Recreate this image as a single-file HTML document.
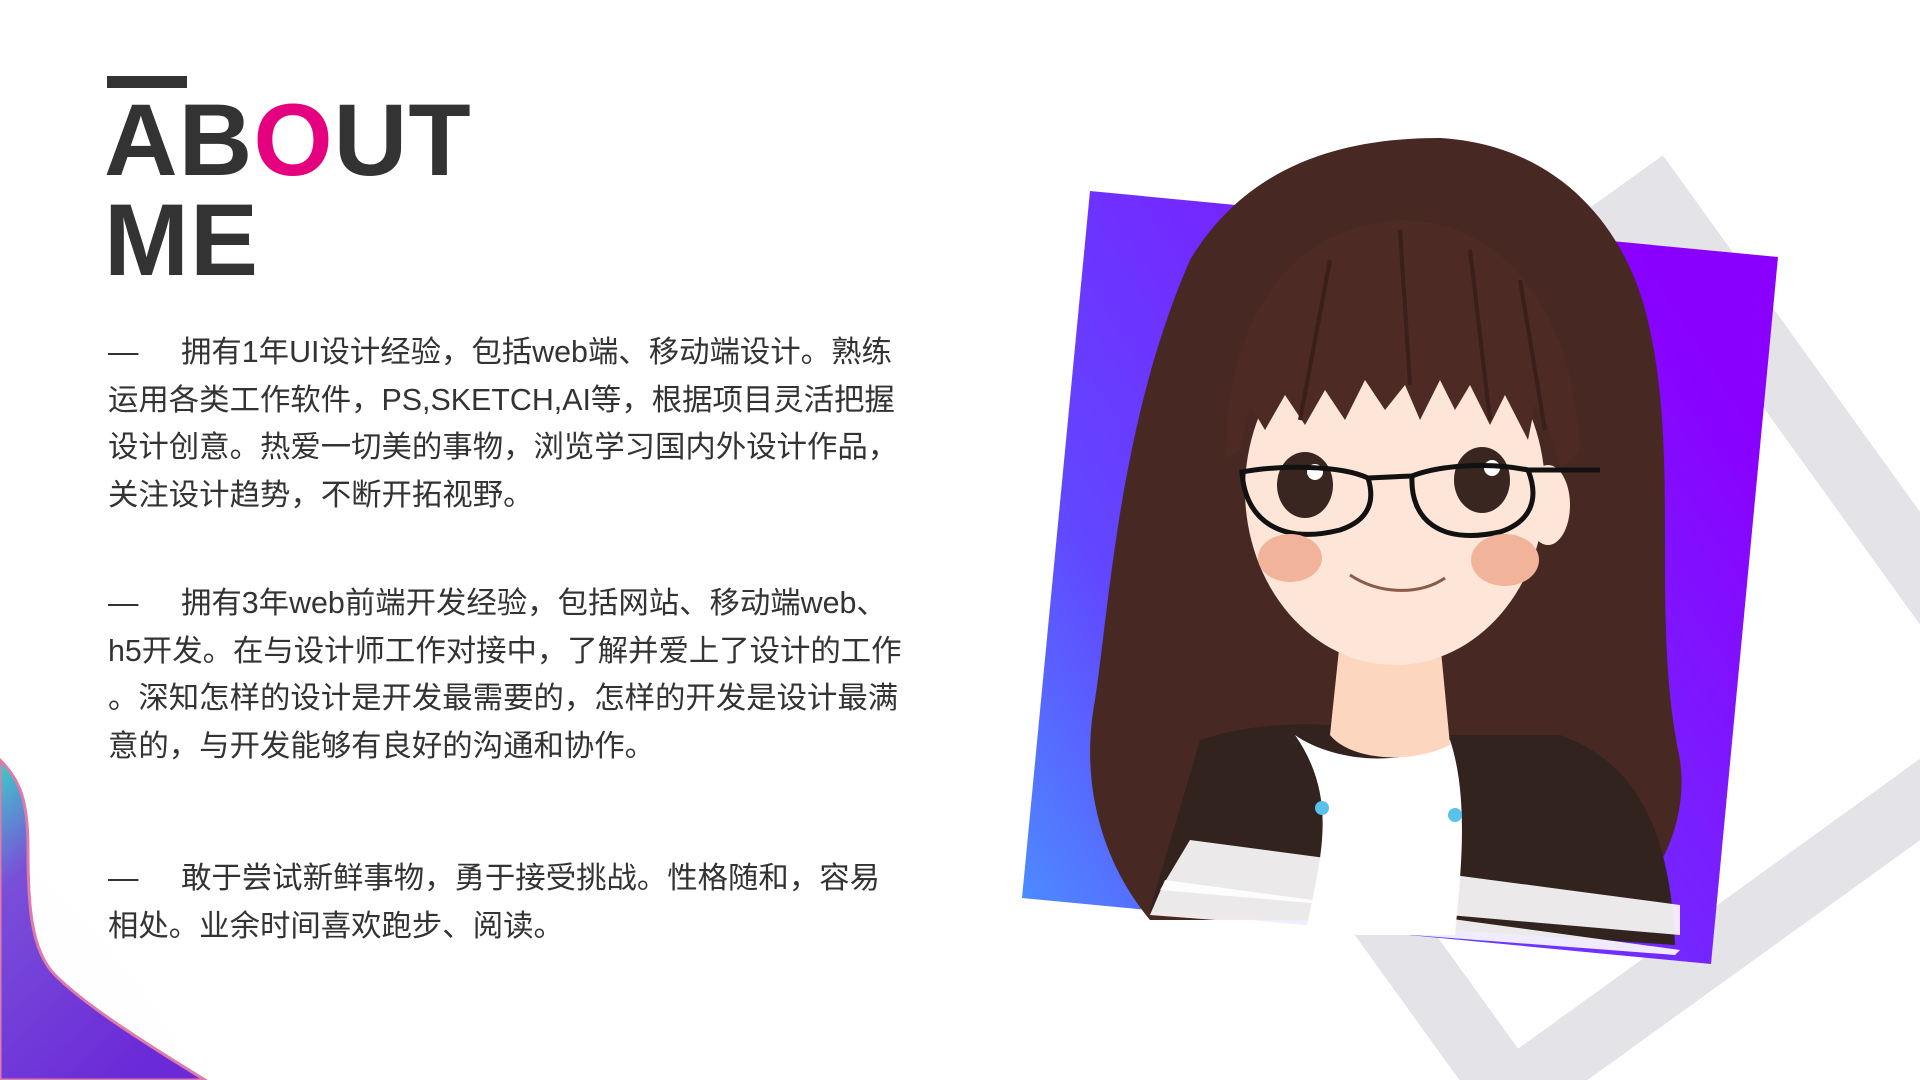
<!DOCTYPE html>
<html><head><meta charset="utf-8"><style>
html,body{margin:0;padding:0;overflow:hidden;}
body{width:1920px;height:1080px;position:relative;overflow:hidden;background:#fff;font-family:"Liberation Sans","Noto Sans CJK SC",sans-serif;}
.bar{position:absolute;left:107px;top:76px;width:80px;height:12px;background:#333;}
.title{position:absolute;left:104px;top:90px;font-weight:bold;font-size:102px;line-height:100px;color:#333;letter-spacing:1px;}
.title .o{color:#e5007f;}
.para{position:absolute;left:108px;font-size:30.4px;line-height:47.7px;color:#333;white-space:nowrap;}
.dash{display:inline-block;width:73px;}
svg{position:absolute;left:0;top:0;display:block;}
</style></head><body>
<svg width="1920" height="1080" viewBox="0 0 1920 1080">
<defs>
<linearGradient id="pg" x1="0" y1="1" x2="1" y2="0.35">
<stop offset="0" stop-color="#4a94ff"/><stop offset="0.3" stop-color="#6148ff"/><stop offset="1" stop-color="#8a00ff"/>
</linearGradient>
<linearGradient id="bg" x1="0" y1="0" x2="0.6" y2="1">
<stop offset="0" stop-color="#3ccfc8"/><stop offset="0.3" stop-color="#7a4fd8"/><stop offset="1" stop-color="#6a2ad8"/>
</linearGradient>
<radialGradient id="glow" cx="0" cy="1" r="1">
<stop offset="0" stop-color="#b9a8ec" stop-opacity="0.8"/><stop offset="1" stop-color="#ffffff" stop-opacity="0"/>
</radialGradient>
</defs>
<ellipse cx="0" cy="1080" rx="360" ry="420" fill="url(#glow)"/>
<path d="M0,760 C20,780 28,800 28,850 C28,900 30,950 55,975 C85,1005 140,1040 205,1080 L0,1080 Z" fill="url(#bg)" stroke="#e07aa8" stroke-width="3"/>
<rect x="1263" y="328" width="640" height="640" fill="none" stroke="#e4e3e8" stroke-width="66" transform="rotate(54.2 1583 648)"/>
<polygon points="1090,191 1778,257 1711,964 1022,898" fill="url(#pg)"/>
<g>
<path d="M1190,260 C1250,160 1350,138 1440,138 C1560,145 1630,230 1650,330 C1680,470 1650,620 1680,760 C1690,830 1650,900 1600,920 L1150,920 C1100,860 1080,780 1095,700 C1110,600 1120,420 1190,260 Z" fill="#472823"/>
<path d="M1200,740 C1260,720 1330,720 1400,735 L1560,735 C1630,760 1670,820 1675,945 L1150,910 Z" fill="#33231f"/>
<path d="M1160,890 L1190,840 L1680,905 L1680,935 Z" fill="#ffffff" opacity="0.9"/>
<path d="M1150,915 L1165,880 L1680,950 L1675,955 Z" fill="#ffffff" opacity="0.9"/>
<path d="M1295,735 C1330,760 1400,770 1450,740 C1470,800 1460,880 1455,935 L1305,935 C1320,860 1340,800 1295,735 Z" fill="#ffffff"/>
<path d="M1340,640 L1440,640 L1450,745 C1410,765 1350,760 1330,735 Z" fill="#fcd6bf"/>
<ellipse cx="1395" cy="490" rx="150" ry="175" fill="#fde6d8"/>
<ellipse cx="1548" cy="505" rx="22" ry="40" fill="#fde6d8"/>
<path d="M1225,460 C1225,320 1290,225 1400,220 C1510,220 1575,320 1580,450 L1560,470 C1555,440 1545,420 1535,405 L1528,440 L1505,395 L1490,425 L1470,385 L1455,410 L1440,380 L1420,420 L1405,385 L1385,410 L1365,380 L1345,420 L1325,390 L1305,425 L1285,395 L1265,430 L1250,405 L1240,450 Z" fill="#4d2a24"/>
<path d="M1400,230 L1410,385 M1470,250 L1490,420 M1330,260 L1300,420 M1520,280 L1545,430" stroke="#3a1f1a" stroke-width="4" fill="none"/>
<ellipse cx="1305" cy="485" rx="28" ry="33" fill="#3a2620"/>
<ellipse cx="1482" cy="480" rx="28" ry="33" fill="#3a2620"/>
<circle cx="1315" cy="472" r="8" fill="#fff"/><circle cx="1492" cy="468" r="8" fill="#fff"/>
<path d="M1242,472 C1245,520 1280,545 1340,530 C1370,520 1375,500 1368,478 C1340,465 1280,465 1242,472 Z M1412,476 C1410,520 1440,545 1500,532 C1530,522 1540,500 1528,470 C1490,462 1440,465 1412,476 Z M1368,478 L1412,476 M1528,470 L1600,470" fill="none" stroke="#111" stroke-width="5"/>
<ellipse cx="1290" cy="558" rx="32" ry="24" fill="#f1b39a"/>
<ellipse cx="1505" cy="560" rx="34" ry="26" fill="#f1b39a"/>
<path d="M1350,575 C1380,595 1420,595 1445,578" fill="none" stroke="#8a5a4a" stroke-width="3"/>
<circle cx="1322" cy="808" r="7" fill="#59c2e8"/><circle cx="1455" cy="815" r="7" fill="#59c2e8"/>
</g>
</svg>
<div class="bar"></div>
<div class="title">AB<span class="o">O</span>UT<br>ME</div>
<div class="para" style="top:329px"><span class="dash">—</span>拥有1年UI设计经验，包括web端、移动端设计。熟练<br>运用各类工作软件，PS,SKETCH,AI等，根据项目灵活把握<br>设计创意。热爱一切美的事物，浏览学习国内外设计作品，<br>关注设计趋势，不断开拓视野。</div>
<div class="para" style="top:580px"><span class="dash">—</span>拥有3年web前端开发经验，包括网站、移动端web、<br>h5开发。在与设计师工作对接中，了解并爱上了设计的工作<br>。深知怎样的设计是开发最需要的，怎样的开发是设计最满<br>意的，与开发能够有良好的沟通和协作。</div>
<div class="para" style="top:855px"><span class="dash">—</span>敢于尝试新鲜事物，勇于接受挑战。性格随和，容易<br>相处。业余时间喜欢跑步、阅读。</div>
</body></html>
